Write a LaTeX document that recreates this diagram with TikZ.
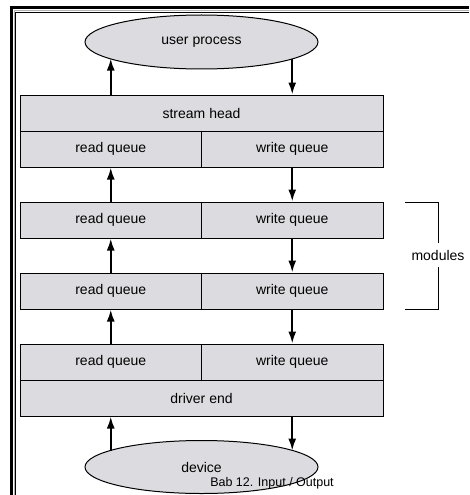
\documentclass[tikz,border=0pt]{standalone}
\usepackage{fontspec}
\setmainfont{Liberation Sans}
\usepackage{xcolor}
\usepackage{tikz}
\usetikzlibrary{
  positioning,
  calc,
  arrows.meta,
  shapes.geometric
}
\definecolor{boxgray}{HTML}{DCDBDF}
\tikzset{
  qbox/.style={draw,line width=1pt,fill=boxgray,minimum width=181.5pt,minimum height=36pt,inner sep=0pt,font=\fontsize{14}{16}\selectfont},
  wbox/.style={qbox,minimum width=363pt},
  proc/.style={ellipse,draw,line width=1pt,fill=boxgray,minimum width=233pt,minimum height=54pt,inner sep=0pt,font=\fontsize{14}{16}\selectfont},
  flow/.style={-{Latex[length=12pt,width=8pt]},line width=2pt}
}

\begin{document}
\begin{tikzpicture}[x=1pt,y=-1pt]
  \useasboundingbox (0,0) rectangle (469,495);
  % 枠
  \draw[line width=3.5pt] (11.7,495) |- (469,7.7);
  \draw[gray!60,line width=1pt] (14,495) |- (469,10.5);
  \draw[line width=0.8pt] (15.6,495) |- (469,12.3);
  % ストリーム
  \node[proc] (up) at (201.5,42) {user process};
  \node[wbox] (sh) at (201.5,113) {stream head};
  \node[qbox] (rq0) at (110.75,149) {read queue};
  \node[qbox] (wq0) at (292.25,149) {write queue};
  \node[qbox] (rq1) at (110.75,220) {read queue};
  \node[qbox] (wq1) at (292.25,220) {write queue};
  \node[qbox] (rq2) at (110.75,291) {read queue};
  \node[qbox] (wq2) at (292.25,291) {write queue};
  \node[qbox] (rq3) at (110.75,362) {read queue};
  \node[qbox] (wq3) at (292.25,362) {write queue};
  \node[wbox] (de) at (201.5,398) {driver end};
  \node[proc,minimum height=53pt] (dev) at (201.5,467) {device};
  % 矢印
  \draw[flow] (sh.north -| rq0) -- (up.190 -| rq0);
  \draw[flow] (up.-10 -| wq0) -- (sh.north -| wq0);
  \foreach \a/\b in {0/1,1/2,2/3}{
    \draw[flow] (rq\b.north) -- (rq\a.south);
    \draw[flow] (wq\a.south) -- (wq\b.north);
  }
  \draw[flow] (dev.170 -| rq3) -- (de.south -| rq3);
  \draw[flow] (de.south -| wq3) -- (dev.10 -| wq3);
  % モジュール
  \node[font=\fontsize{14}{16}\selectfont,inner ysep=7pt] (mod) at (438,255) {modules};
  \draw[line width=1pt] (mod.north) |- (405,202);
  \draw[line width=1pt] (mod.south) |- (405,309);
  % 見出し
  \node[font=\fontsize{12.5}{14}\selectfont,inner sep=0pt] (cap) at (272,483) {Bab 12. Input / Output};
\end{tikzpicture}
\end{document}
